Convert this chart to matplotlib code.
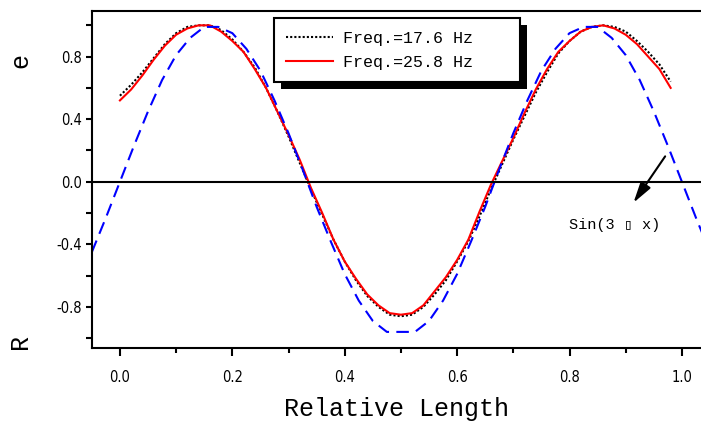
import matplotlib
matplotlib.use("Agg")
import matplotlib.pyplot as plt
from matplotlib.patches import Rectangle
from matplotlib.transforms import IdentityTransform

# measured data (relative length, 0..0.98)
x_meas = [0.00, 0.02, 0.04, 0.06, 0.08, 0.10, 0.12, 0.14, 0.16, 0.18,
          0.20, 0.22, 0.24, 0.26, 0.28, 0.30, 0.32, 0.34, 0.36, 0.38,
          0.40, 0.42, 0.44, 0.46, 0.48, 0.50, 0.52, 0.54, 0.56, 0.58,
          0.60, 0.62, 0.64, 0.66, 0.68, 0.70, 0.72, 0.74, 0.76, 0.78,
          0.80, 0.82, 0.84, 0.86, 0.88, 0.90, 0.92, 0.94, 0.96, 0.98]
re_176 = [0.55, 0.62, 0.70, 0.79, 0.88, 0.95, 0.99, 1.00, 1.00, 0.97,
          0.91, 0.83, 0.73, 0.60, 0.45, 0.29, 0.12, -0.05, -0.21, -0.37,
          -0.51, -0.63, -0.73, -0.80, -0.85, -0.86, -0.85, -0.80, -0.72, -0.63,
          -0.51, -0.38, -0.22, -0.05, 0.11, 0.27, 0.42, 0.57, 0.70, 0.82,
          0.90, 0.96, 0.99, 1.00, 0.99, 0.96, 0.90, 0.83, 0.75, 0.64]
re_258 = [0.52, 0.59, 0.68, 0.78, 0.87, 0.94, 0.98, 1.00, 1.00, 0.96,
          0.90, 0.83, 0.72, 0.60, 0.45, 0.30, 0.14, -0.04, -0.20, -0.37,
          -0.51, -0.62, -0.72, -0.79, -0.84, -0.85, -0.84, -0.79, -0.70, -0.61,
          -0.50, -0.37, -0.19, -0.02, 0.13, 0.28, 0.44, 0.59, 0.72, 0.83,
          0.90, 0.96, 0.99, 1.00, 0.98, 0.94, 0.88, 0.80, 0.72, 0.60]

# reference curve Sin(3 pi x)
x_ref = [-0.050, -0.025, 0.000, 0.025, 0.050, 0.075, 0.100, 0.125, 0.150, 0.175,
         0.200, 0.225, 0.250, 0.275, 0.300, 0.325, 0.350, 0.375, 0.400, 0.425,
         0.450, 0.475, 0.500, 0.525, 0.550, 0.575, 0.600, 0.625, 0.650, 0.675,
         0.700, 0.725, 0.750, 0.775, 0.800, 0.825, 0.850, 0.875, 0.900, 0.925,
         0.950, 0.975, 1.000, 1.025, 1.050]
y_ref = [-0.45, -0.23, 0.00, 0.23, 0.45, 0.65, 0.81, 0.92, 0.99, 0.99,
         0.95, 0.85, 0.71, 0.52, 0.31, 0.08, -0.16, -0.38, -0.59, -0.76,
         -0.89, -0.96, -0.96, -0.96, -0.89, -0.76, -0.59, -0.38, -0.16, 0.08,
         0.31, 0.52, 0.71, 0.85, 0.95, 0.99, 0.99, 0.92, 0.81, 0.65,
         0.45, 0.23, 0.00, -0.23, -0.45]

mono = ['Liberation Mono', 'DejaVu Sans Mono']

fig = plt.figure(figsize=(7.01, 4.21), dpi=100)
ax = fig.add_axes([0.131, 0.173, 0.869, 0.801])

ax.plot(x_meas, re_176, color='black', lw=1.5, linestyle=(0, (1, 1)), label='Freq.=17.6 Hz')
ax.plot(x_meas, re_258, color='red', lw=1.5, label='Freq.=25.8 Hz')
ax.plot(x_ref, y_ref, color='blue', lw=1.5, linestyle=(0, (6, 3.5)))
ax.axhline(0, color='black', lw=1.5)

ax.set_xlim(-0.05, 1.034)
ax.set_ylim(-1.064, 1.092)
ax.set_xticks([0.0, 0.2, 0.4, 0.6, 0.8, 1.0])
ax.set_xticks([0.1, 0.3, 0.5, 0.7, 0.9], minor=True)
ax.set_yticks([-0.8, -0.4, 0.0, 0.4, 0.8])
ax.set_yticks([-1.0, -0.6, -0.2, 0.2, 0.6, 1.0], minor=True)
ax.set_xticklabels(['0.0', '0.2', '0.4', '0.6', '0.8', '1.0'], family='DejaVu Sans',
                   fontstretch='condensed', fontsize=10.5)
ax.set_yticklabels(['-0.8', '-0.4', '0.0', '0.4', '0.8'], family='DejaVu Sans',
                   fontstretch='condensed', fontsize=10.5)
ax.tick_params(axis='x', which='major', direction='out', length=6, width=1.5, pad=10)
ax.tick_params(axis='x', which='minor', direction='out', length=3.5, width=1.5)
ax.tick_params(axis='y', which='both', direction='out', length=4, width=1.5, pad=3)
for s in ['left', 'bottom', 'top']:
    ax.spines[s].set_linewidth(1.5)
ax.spines['right'].set_visible(False)

ax.set_xlabel('Relative Length', family=mono, fontsize=18, labelpad=8)
fig.text(0.029, 0.857, 'e', family=mono, fontsize=18, rotation=90, ha='center', va='center')
fig.text(0.029, 0.19, 'R', family=mono, fontsize=18, rotation=90, ha='center', va='center')

ax.annotate('', xy=(0.911, -0.149), xytext=(0.973, 0.177),
            arrowprops=dict(arrowstyle='-|>,head_length=0.9,head_width=0.25',
                            color='black', lw=1.5, mutation_scale=14))
ax.text(0.881, -0.277, 'Sin(3 \u25af x)', family=mono, fontsize=11, ha='center', va='center')

leg = ax.legend(loc='upper left', bbox_to_anchor=(0.299, 0.979, 0.404, 0.0), mode='expand',
                prop={'family': mono, 'size': 12}, frameon=True, fancybox=False,
                edgecolor='black', framealpha=1, borderpad=0.75, handlelength=2.8,
                handletextpad=0.6, labelspacing=0.55, borderaxespad=0)
leg.get_frame().set_linewidth(1.5)

# solid black drop shadow behind the legend
fig.canvas.draw()
bb = leg.get_window_extent()
shadow = Rectangle((bb.x0 + 7, bb.y0 - 7), bb.width, bb.height, transform=IdentityTransform(),
                   facecolor='black', edgecolor='none', zorder=leg.get_zorder() - 0.1, clip_on=False)
ax.add_artist(shadow)

fig.savefig('out.png', dpi=100)
